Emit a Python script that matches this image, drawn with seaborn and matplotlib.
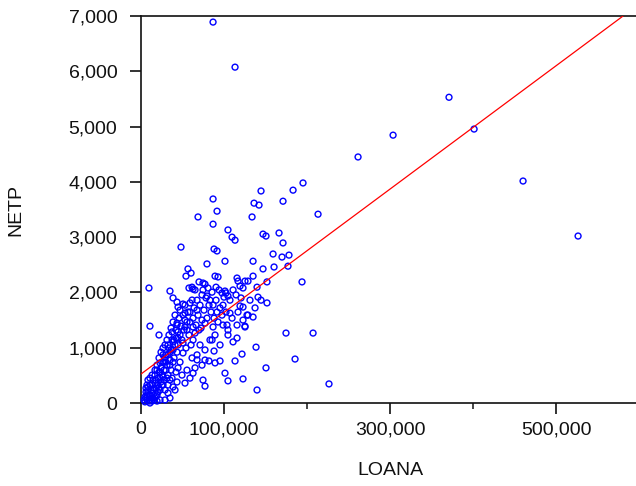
import matplotlib
matplotlib.use("Agg")
import matplotlib.pyplot as plt
import matplotlib.ticker as mticker
import pandas as pd
import seaborn as sns

# LOANA / NETP pairs
loana = [
    86800, 113300, 371100, 303700, 401300, 261500, 460300, 526600, 195200, 183200,
    144600, 86800, 91600, 68700, 136200, 142200, 171100, 133800, 213300, 86800,
    104800, 109700, 113300, 147000, 150600, 166300, 171100, 48200, 88000, 91600,
    159100, 169900, 178300, 101200, 79500, 135000, 147000, 160300, 177100, 56600,
    60300, 54200, 89200, 92800, 115700, 135000, 194000, 9600, 69900, 77100,
    116900, 125300, 128900, 90400, 34900, 38600, 57800, 62700, 74700, 80700,
    119300, 122900, 139800, 151800, 141000, 151800, 97600, 102400, 100000, 104800,
    101200, 44600, 53000, 67500, 83100, 95200, 119300, 128900, 135000, 10800,
    21700, 43400, 53000, 73500, 86800, 103600, 115700, 125300, 174700, 207300,
    115700, 138600, 88000, 121700, 185600, 81900, 89200, 95200, 113300, 150600,
    101200, 104800, 122900, 77100, 139800, 226500, 74700, 122900, 127700, 125300,
    61500, 65100, 43400, 50600, 59000, 47000, 53000, 59000, 67500, 43400,
    55400, 37400, 44600, 55400, 62700, 26500, 32500, 38600, 44600, 50600,
    62700, 34900, 50600, 61500, 67500, 22900, 28900, 38600, 44600, 55400,
    62700, 13300, 19300, 26500, 34900, 43400, 53000, 8400, 16900, 22900,
    32500, 38600, 7200, 14500, 22900, 4800, 10800, 28900,
    4800, 6000, 7200, 8400, 10800, 12100, 13300, 15700, 16900, 18100,
    19300, 20500, 21700, 22900, 24100, 25300, 26500, 27700, 28900, 30100,
    31300, 32500, 33700, 34900, 36200, 37400, 38600, 39800, 41000, 42200,
    43400, 44600, 45800, 47000, 48200, 49400, 50600, 51800, 53000, 54200,
    56600, 57800, 59000, 60300, 62700, 63900, 65100, 66300, 68700, 71100,
    72300, 73500, 75900, 78300, 79500, 81900, 84400, 85600, 88000, 90400,
    92800, 94000, 97600, 98800, 102400, 107200, 109700, 110900, 114500, 116900,
    120500, 131300, 137400, 144600, 110900, 104800, 95200, 85600, 77100, 71100,
    67500, 73500, 65100, 59000, 49400, 41000, 34900, 47000, 42200,
    3600, 6000, 9600, 12100, 15700, 18100, 20500, 10800, 14500, 16900,
    19300, 21700, 24100, 26500, 28900, 31300, 33700, 36200, 38600, 41000,
    32500, 37400, 25300, 30100, 34900,
    77100, 98800, 104800, 122900, 107200, 89200,
    7200, 9600, 13300, 16900, 19300, 8400, 10800, 14500, 18100, 21700,
    24100, 26500, 20500, 22900, 27700, 30100, 32500, 36200, 39800, 42200,
    27700, 31300, 13300, 6000,
    74700, 79500, 83100, 77100, 86800, 91600, 69900, 61500,
]
netp = [
    6890, 6075, 5530, 4845, 4955, 4450, 4015, 3020, 3980, 3850,
    3835, 3690, 3470, 3365, 3615, 3580, 3650, 3365, 3415, 3235,
    3130, 3000, 2945, 3055, 3020, 3075, 2895, 2820, 2785, 2750,
    2695, 2640, 2675, 2565, 2515, 2565, 2425, 2460, 2475, 2425,
    2350, 2295, 2295, 2280, 2260, 2295, 2190, 2080, 2190, 2150,
    2205, 2205, 2205, 2095, 2025, 1900, 2080, 2060, 2170, 2080,
    2115, 2080, 2095, 2190, 1915, 1810, 1990, 1990, 1915, 1935,
    2025, 1735, 1770, 1860, 1860, 1720, 1755, 1590, 1555, 1390,
    1230, 1410, 1375, 1500, 1375, 1410, 1410, 1390, 1265, 1265,
    1175, 1010, 940, 885, 795, 760, 725, 760, 760, 635,
    540, 400, 435, 305, 235, 345, 415, 1735, 1590, 1375,
    2095, 2045, 1825, 1790, 1810, 1680, 1625, 1645, 1680, 1445,
    1465, 1285, 1285, 1320, 1375, 995, 1050, 1105, 1175, 1085,
    1140, 920, 905, 815, 780, 725, 815, 740, 635, 595,
    540, 505, 595, 470, 415, 380, 360, 290, 360, 235,
    180, 290, 145, 90, 55, 20, 0, 55,
    110, 200, 325, 415, 450, 235, 180, 270, 505, 415,
    145, 325, 560, 450, 635, 325, 740, 595, 235, 870,
    685, 505, 995, 780, 595, 1140, 960, 815, 1050, 1320,
    920, 1050, 1535, 1230, 1390, 1140, 1590, 1320, 1500, 995,
    1645, 1230, 1465, 1050, 1535, 1720, 1265, 1410, 1590, 1770,
    1355, 1955, 1680, 1900, 1535, 1770, 1645, 2005, 1535, 1860,
    1465, 2045, 1590, 1770, 1645, 1860, 1535, 2045, 1955, 1645,
    1900, 1860, 1720, 1860, 1105, 1230, 1050, 1140, 960, 1050,
    870, 685, 635, 450, 505, 235, 90, 740, 560,
    55, 90, 145, 90, 55, 125, 200, 325, 415, 595,
    685, 815, 920, 870, 1050, 1140, 1230, 1355, 1465, 1590,
    325, 450, 505, 595, 685,
    1445, 1410, 1320, 1500, 1625, 1230,
    55, 35, 35, 90, 35, 200, 145, 235, 270, 270,
    380, 325, 450, 560, 740, 740, 870, 960, 1140, 1175,
    415, 450, 325, 270,
    2045, 1935, 1140, 777, 1772, 1645, 1320, 1862,
]

# fitted line as drawn on the chart
fit_intercept = 524
fit_slope = 0.01115

x_major = [0, 100000, 300000, 500000]
x_minor = [200000, 400000]
y_ticks = [0, 1000, 2000, 3000, 4000, 5000, 6000, 7000]

df = pd.DataFrame({"LOANA": loana, "NETP": netp})

sns.set_style("ticks")
plt.rcParams["font.family"] = ["Liberation Sans", "DejaVu Sans"]

fig = plt.figure(figsize=(6.36, 4.86), dpi=100)
ax = fig.add_axes([141 / 636, 83 / 486, 498 / 636, 387 / 486])

sns.scatterplot(data=df, x="LOANA", y="NETP", ax=ax, marker="o",
                s=18, facecolors="none", edgecolor="#0000ff", linewidth=1.0,
                clip_on=False, zorder=3)
ax.axline((0, fit_intercept), slope=fit_slope, color="#ff0000", lw=0.9, zorder=4)

ax.set_xlim(0, 600000)
ax.set_ylim(0, 7000)
ax.set_xticks(x_major)
ax.set_xticks(x_minor, minor=True)
ax.set_yticks(y_ticks)
ax.xaxis.set_major_formatter(mticker.StrMethodFormatter("{x:,.0f}"))
ax.yaxis.set_major_formatter(mticker.StrMethodFormatter("{x:,.0f}"))

ax.tick_params(which="major", direction="out", length=8, width=1.2,
               labelsize=14, colors="#111111")
ax.tick_params(axis="y", pad=9)
ax.tick_params(axis="x", pad=5)
ax.tick_params(which="minor", axis="x", direction="out", length=4, width=1.2)
for sp in ax.spines.values():
    sp.set_linewidth(1.2)
    sp.set_color("#111111")

ax.set_xlabel("LOANA", fontsize=14, color="#111111")
ax.set_ylabel("NETP", fontsize=14, color="#111111")
ax.xaxis.set_label_coords(0.5, -0.152)
ax.yaxis.label.set_va("center")
ax.yaxis.set_label_coords(-0.252, 0.5)

fig.savefig("out.png", dpi=100)
